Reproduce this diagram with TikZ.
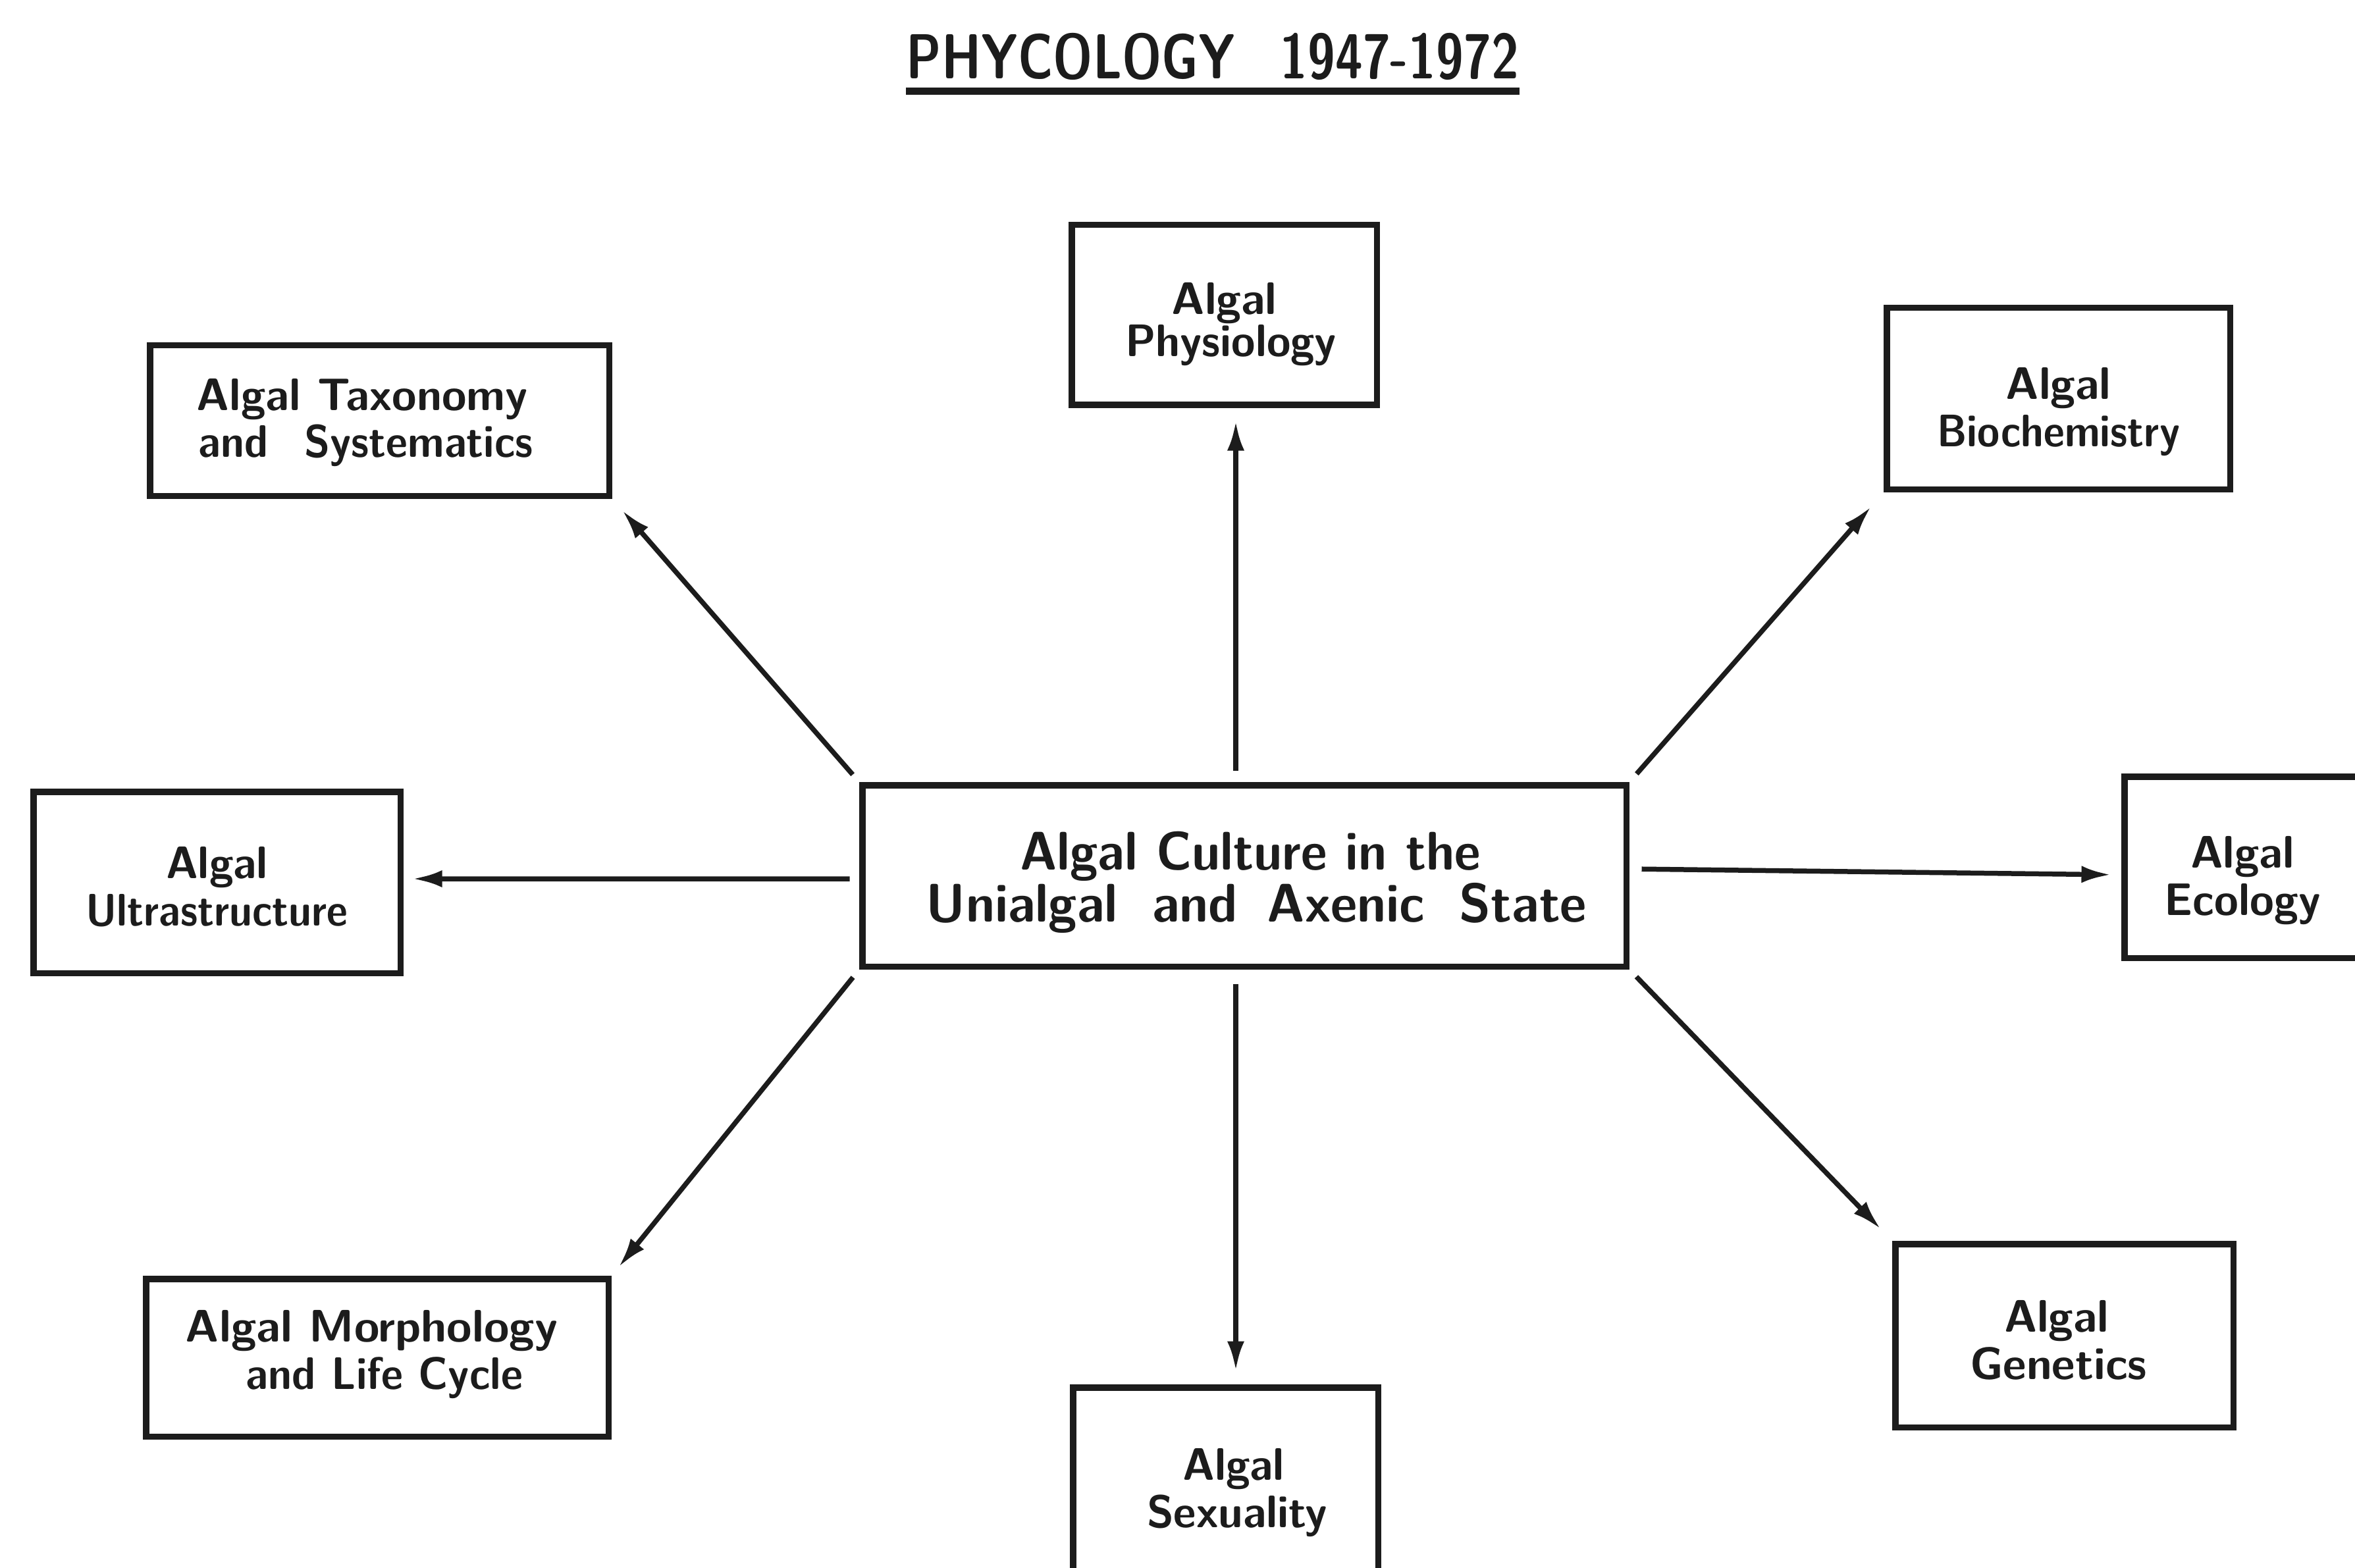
\documentclass[tikz,border=0pt]{standalone}
\usepackage{fontspec}
\usepackage{graphicx}
\usetikzlibrary{arrows.meta,calc}
\newcommand\fw[2]{\resizebox{#1cm}{\height}{#2}}
\definecolor{ink}{HTML}{1C1C1C}
\tikzset{
  box/.style={draw=ink, line width=0.095cm, rectangle, inner sep=0pt},
  lbl/.style={text=ink, inner sep=0pt, align=center,
    font=\sffamily\bfseries\fontsize{19.7}{20.4}\selectfont},
  biglbl/.style={lbl, font=\sffamily\bfseries\fontsize{23.5}{22.6}\selectfont},
  arr/.style={draw=ink, line width=0.075cm, -{Latex[length=0.45cm,width=0.26cm]}},
}
\begin{document}
\lineskiplimit=-100pt
\begin{tikzpicture}
\useasboundingbox (0,0) rectangle (35.77,-23.82);
\clip (0,0) rectangle (35.77,-23.82);
\fill[white] (0,0) rectangle (35.77,-23.82);

% title
\node[anchor=base, inner sep=0pt, text=ink, font=\sffamily\bfseries\fontsize{27.5}{30}\selectfont] (title) at (18.42,-1.20)
  {\fw{9.30}{PHYCOLOGY\hspace{0.9em}1947-1972}};
\draw[ink, line width=0.11cm] ([yshift=-0.19cm]title.base west) -- ([yshift=-0.19cm]title.base east);

% boxes
\node[box, minimum width=11.605cm, minimum height=2.755cm] (center) at (18.90,-13.305) {};
\node[box, minimum width=4.635cm, minimum height=2.735cm] (phys) at (18.595,-4.785) {};
\node[box, minimum width=6.975cm, minimum height=2.285cm] (tax) at (5.765,-6.39) {};
\node[box, minimum width=5.215cm, minimum height=2.755cm] (bio) at (31.265,-6.055) {};
\node[box, minimum width=5.575cm, minimum height=2.755cm] (ultra) at (3.295,-13.405) {};
\node[box, minimum width=3.585cm, minimum height=2.755cm] (eco) at (34.06,-13.175) {};
\node[box, minimum width=7.025cm, minimum height=2.395cm] (morph) at (5.73,-20.625) {};
\node[box, minimum width=4.635cm, minimum height=2.975cm] (sex) at (18.615,-22.565) {};
\node[box, minimum width=5.135cm, minimum height=2.785cm] (gen) at (31.355,-20.29) {};

% texts
\node[biglbl] (centerT) at ([yshift=-0.10cm]center.center)
  {\hspace*{0.18cm}\fw{7.00}{Algal Culture in the}\\ \hspace*{0.37cm}\fw{10.03}{Unialgal\hspace{0.3em} and\hspace{0.2em} Axenic\hspace{0.3em} State}};
\node[lbl] (physT) at ([yshift=-0.14cm]phys.center)
  {\fw{1.60}{Algal}\\[-0.07cm] \hspace*{0.2cm}\fw{3.21}{Physiology}};
\node[lbl] (taxT) at ([yshift=-0.03cm]tax.center)
  {\hspace*{-0.52cm}\fw{5.03}{Algal Taxonomy}\\ \hspace*{-0.42cm}\fw{5.08}{and\hspace{0.5em} Systematics}};
\node[lbl] (bioT) at ([yshift=-0.20cm]bio.center)
  {\fw{1.60}{Algal}\\ \fw{3.69}{Biochemistry}};
\node[lbl] (ultraT) at ([yshift=-0.07cm]ultra.center)
  {\fw{1.55}{Algal}\\ \fw{3.98}{Ultrastructure}};
\node[lbl] (ecoT) at ([yshift=-0.20cm]eco.center)
  {\fw{1.58}{Algal}\\ \fw{2.37}{Ecology}};
\node[lbl] (morphT) at ([yshift=0.05cm]morph.center)
  {\hspace*{-0.17cm}\fw{5.65}{Algal Morphology}\\ \hspace*{0.22cm}\fw{4.20}{and Life Cycle}};
\node[lbl] (sexT) at ([yshift=-0.11cm]sex.center)
  {\hspace*{0.24cm}\fw{1.55}{Algal}\\ \hspace*{0.35cm}\fw{2.74}{Sexuality}};
\node[lbl] (genT) at ([yshift=-0.07cm]gen.center)
  {\hspace*{-0.24cm}\fw{1.59}{Algal}\\ \hspace*{-0.18cm}\fw{2.69}{Genetics}};

% connectors
\draw[arr, shorten <=0.175cm, shorten >=0.195cm]
  ([xshift=-0.13cm]center.north) -- ([xshift=-0.13cm]center.north |- phys.south);
\draw[arr, shorten <=0.215cm, shorten >=0.205cm]
  ([xshift=-0.13cm]center.south) -- ([xshift=-0.13cm]center.south |- sex.north);
\draw[arr, shorten <=0.15cm, shorten >=0.23cm] (center.north west) -- (tax.south east);
\draw[arr, shorten <=0.165cm, shorten >=0.29cm] (center.north east) -- (bio.south west);
\draw[arr, shorten <=0.15cm, shorten >=0.17cm] (center.south west) -- (morph.north east);
\draw[arr, shorten <=0.15cm, shorten >=0.25cm] (center.south east) -- (gen.north west);
\draw[arr, shorten <=0.145cm, shorten >=0.135cm]
  ([yshift=-0.045cm]center.west) -- ([yshift=0.055cm]ultra.east);
\draw[arr, shorten <=0.185cm, shorten >=0.155cm]
  ([yshift=0.105cm]center.east) -- ([yshift=-0.115cm]eco.west);
\end{tikzpicture}
\end{document}
